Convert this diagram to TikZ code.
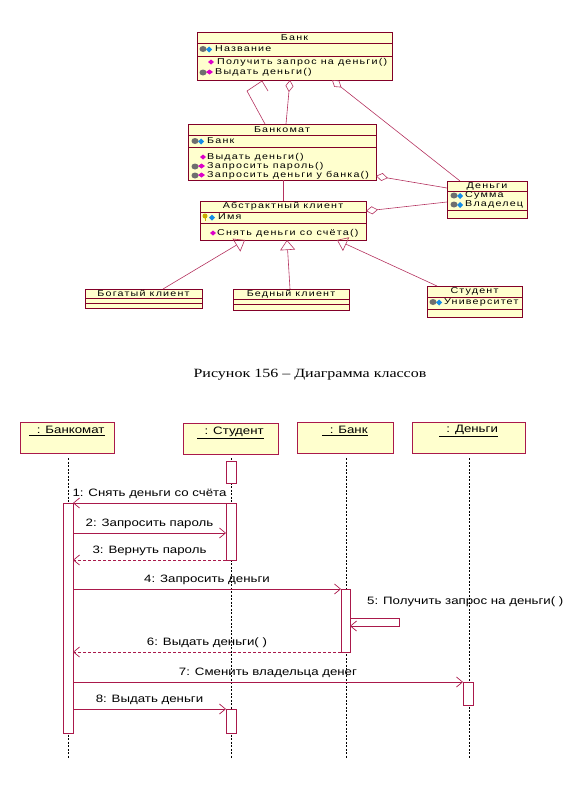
\documentclass[tikz,border=0pt]{standalone}
\usepackage{fontspec}
\setmainfont{Liberation Sans}
\newfontfamily\rosefont[LetterSpace=14,FakeStretch=1.26]{Liberation Sans}
\newfontfamily\seqfont[FakeStretch=1.24]{Liberation Sans}
\newfontfamily\capfont[FakeStretch=1.27]{Liberation Serif}
\usetikzlibrary{arrows.meta,calc}

\definecolor{rosefill}{RGB}{255,255,206}
\definecolor{rosedark}{RGB}{130,0,40}
\definecolor{roseline}{RGB}{180,50,95}
\definecolor{seqline}{RGB}{170,25,75}
\definecolor{icongray}{RGB}{110,110,110}
\definecolor{iconblue}{RGB}{20,140,230}
\definecolor{iconmag}{RGB}{220,0,200}
\definecolor{iconkey}{RGB}{200,170,0}

\tikzset{
  classbox/.style={draw=rosedark, fill=rosefill, line width=0.8pt, inner sep=0pt,
                   outer sep=0pt, anchor=north west},
  sepline/.style={draw=rosedark, line width=0.6pt},
  ctext/.style={font=\rosefont\fontsize{8.5}{9}\selectfont, inner sep=0pt, anchor=west},
  chead/.style={font=\rosefont\fontsize{8.5}{9}\selectfont, inner sep=0pt},
  assoc/.style={draw=roseline, line width=0.6pt},
  aggr/.style={assoc, {Diamond[open,length=12pt,width=8pt]}-},
  gen/.style={assoc, -{Triangle[open,length=10pt,width=15pt]}},
  objbox/.style={draw=seqline, fill=rosefill, line width=0.9pt, inner sep=0pt,
                 outer sep=0pt, anchor=north west},
  objtext/.style={font=\seqfont\fontsize{10.7}{12}\selectfont, inner sep=0pt},
  lifeline/.style={draw=black, line width=0.6pt, dash pattern=on 2pt off 1.5pt},
  actbox/.style={draw=seqline, fill=white, line width=0.9pt, inner sep=0pt,
                 outer sep=0pt, anchor=north west, minimum width=10pt},
  msg/.style={draw=seqline, line width=0.7pt, -{Straight Barb[length=6pt,width=10pt]}},
  reply/.style={msg, dash pattern=on 3pt off 2pt},
  mtext/.style={font=\seqfont\fontsize{10.7}{12}\selectfont, inner sep=0pt},
  attric/.pic={
    \fill[icongray] (3,0) ellipse (3.5pt and 3pt);
    \fill[iconblue] (6,0.5) -- (9,-2.5) -- (12,0.5) -- (9,3.5) -- cycle;
  },
  keyic/.pic={
    \fill[iconkey] (2,-1) circle (2.5pt);
    \draw[iconkey, line width=1pt] (2,0) -- (2,4);
    \fill[iconblue] (6,0.5) -- (9,-2.5) -- (12,0.5) -- (9,3.5) -- cycle;
  },
  opic/.pic={
    \fill[iconmag] (8,0) -- (11,-2.5) -- (14,0) -- (11,2.5) -- cycle;
  },
  protic/.pic={
    \fill[icongray] (3,0.5) ellipse (3.5pt and 3pt);
    \fill[iconmag] (6,0) -- (9.5,-2.5) -- (13,0) -- (9.5,2.5) -- cycle;
  },
}

\begin{document}
\begin{tikzpicture}[x=1pt,y=-1pt]
\useasboundingbox (0,0) rectangle (578,795);

% ---------------- class diagram ----------------
% Bank
\node[classbox, minimum width=195pt, minimum height=48pt] (bank) at (197,32) {};
\draw[sepline] ($(bank.north west)+(0,11)$) -- ($(bank.north east)+(0,11)$);
\draw[sepline] ($(bank.north west)+(0,24)$) -- ($(bank.north east)+(0,24)$);
\node[chead] (bankT) at ($(bank.north)+(0,5.5)$) {Банк};
\pic at ($(bank.north west)+(3,17)$) {attric};
\node[ctext] (bankA) at ($(bank.north west)+(18,17)$) {Название};
\pic at ($(bank.north west)+(3,30)$) {opic};
\node[ctext] (bankO1) at ($(bank.north west)+(20,30)$) {Получить запрос на деньги()};
\pic at ($(bank.north west)+(3,40)$) {protic};
\node[ctext] (bankO2) at ($(bank.north west)+(18,40)$) {Выдать деньги()};

% ATM
\node[classbox, minimum width=188pt, minimum height=56pt] (atm) at (188,124) {};
\draw[sepline] ($(atm.north west)+(0,11)$) -- ($(atm.north east)+(0,11)$);
\draw[sepline] ($(atm.north west)+(0,23)$) -- ($(atm.north east)+(0,23)$);
\node[chead] (atmT) at ($(atm.north)+(0,5.5)$) {Банкомат};
\pic at ($(atm.north west)+(4,17)$) {attric};
\node[ctext] (atmA) at ($(atm.north west)+(19,17)$) {Банк};
\pic at ($(atm.north west)+(4,33)$) {opic};
\node[ctext] (atmO1) at ($(atm.north west)+(19,33)$) {Выдать деньги()};
\pic at ($(atm.north west)+(4,42)$) {protic};
\node[ctext] (atmO2) at ($(atm.north west)+(19,42)$) {Запросить пароль()};
\pic at ($(atm.north west)+(4,51)$) {protic};
\node[ctext] (atmO3) at ($(atm.north west)+(19,51)$) {Запросить деньги у банка()};

% Abstract client
\node[classbox, minimum width=166pt, minimum height=39pt] (client) at (200,201) {};
\draw[sepline] ($(client.north west)+(0,11)$) -- ($(client.north east)+(0,11)$);
\draw[sepline] ($(client.north west)+(0,22)$) -- ($(client.north east)+(0,22)$);
\node[chead] (clientT) at ($(client.north)+(0,5.5)$) {Абстрактный клиент};
\pic at ($(client.north west)+(3,16)$) {keyic};
\node[ctext] (clientA) at ($(client.north west)+(18,16)$) {Имя};
\pic at ($(client.north west)+(2,32)$) {opic};
\node[ctext] (clientO) at ($(client.north west)+(17,32)$) {Снять деньги со счёта()};

% Money
\node[classbox, minimum width=80pt, minimum height=37pt] (money) at (447,181) {};
\draw[sepline] ($(money.north west)+(0,10)$) -- ($(money.north east)+(0,10)$);
\draw[sepline] ($(money.north west)+(0,29)$) -- ($(money.north east)+(0,29)$);
\node[chead] (moneyT) at ($(money.north)+(0,5)$) {Деньги};
\pic at ($(money.north west)+(4,14.5)$) {attric};
\node[ctext] (moneyA1) at ($(money.north west)+(18,14.5)$) {Сумма};
\pic at ($(money.north west)+(4,23.5)$) {attric};
\node[ctext] (moneyA2) at ($(money.north west)+(18,23.5)$) {Владелец};

% Rich client
\node[classbox, minimum width=117pt, minimum height=19pt] (rich) at (85,289) {};
\draw[sepline] ($(rich.north west)+(0,9)$) -- ($(rich.north east)+(0,9)$);
\draw[sepline] ($(rich.north west)+(0,14)$) -- ($(rich.north east)+(0,14)$);
\node[chead] (richT) at ($(rich.north)+(0,4.5)$) {Богатый клиент};

% Poor client
\node[classbox, minimum width=116pt, minimum height=21pt] (poor) at (233,289) {};
\draw[sepline] ($(poor.north west)+(0,10)$) -- ($(poor.north east)+(0,10)$);
\draw[sepline] ($(poor.north west)+(0,15)$) -- ($(poor.north east)+(0,15)$);
\node[chead] (poorT) at ($(poor.north)+(0,5.5)$) {Бедный клиент};

% Student
\node[classbox, minimum width=95pt, minimum height=31pt] (stud) at (427,286) {};
\draw[sepline] ($(stud.north west)+(0,11)$) -- ($(stud.north east)+(0,11)$);
\draw[sepline] ($(stud.north west)+(0,23)$) -- ($(stud.north east)+(0,23)$);
\node[chead] (studT) at ($(stud.north)+(0,5.5)$) {Студент};
\pic at ($(stud.north west)+(3,16)$) {attric};
\node[ctext] (studA) at ($(stud.north west)+(17,16)$) {Университет};

% relations
\draw[assoc] ($(atm.north west)+(77,0)$) -- ($(bank.south west)+(50,11)$)
             -- ($(bank.south west)+(65,1)$) -- ($(bank.south west)+(71,11)$);
\draw[aggr] ($(bank.south west)+(93,0)$) -- ($(atm.north west)+(98,0)$);
\draw[aggr] ($(bank.south west)+(135,0)$) -- ($(money.north west)+(13,0)$);
\draw[aggr] ($(atm.south east)+(0,-4)$) -- ($(money.north west)+(0,7)$);
\draw[aggr] ($(client.north east)+(0,10)$) -- ($(money.north west)+(0,21)$);
\draw[assoc] ($(atm.south west)+(95,0)$) -- ($(client.north west)+(83,0)$);
\draw[gen] ($(rich.north west)+(78,0)$) -- ($(client.south west)+(45,0)$);
\draw[gen] ($(poor.north west)+(57,0)$) -- ($(client.south west)+(87,0)$);
\draw[gen] ($(stud.north west)+(10,0)$) -- ($(client.south west)+(137,0)$);

% caption
\node[font=\capfont\fontsize{12.6}{14}\selectfont, inner sep=0pt] (caption) at (310,375)
  {Рисунок 156 – Диаграмма классов};

% ---------------- sequence diagram ----------------
\node[objbox, minimum width=94pt, minimum height=31pt] (oAtm) at (20,422) {};
\node[objbox, minimum width=95pt, minimum height=31pt] (oStud) at (183,423) {};
\node[objbox, minimum width=96pt, minimum height=31pt] (oBank) at (297,422) {};
\node[objbox, minimum width=113pt, minimum height=31pt] (oMoney) at (412,422) {};
\node[objtext] (tAtm) at ($(oAtm.north)+(0,9)$) {\underline{\ \ : Банкомат}};
\node[objtext] (tStud) at ($(oStud.north)+(0,10)$) {\underline{\ \ : Студент}};
\node[objtext] (tBank) at ($(oBank.north)+(0,9)$) {\underline{\ \ : Банк}};
\node[objtext] (tMoney) at ($(oMoney.north)+(0,9)$) {\underline{\ \ : Деньги}};

% lifelines
\coordinate (lAtm) at (68,458);
\coordinate (lStud) at (231,458);
\coordinate (lBank) at (346,458);
\coordinate (lMoney) at (469,458);
\coordinate (lEnd) at (0,758);
\draw[lifeline] (lAtm) -- (lAtm |- lEnd);
\draw[lifeline] (lStud) -- (lStud |- lEnd);
\draw[lifeline] (lBank) -- (lBank |- lEnd);
\draw[lifeline] (lMoney) -- (lMoney |- lEnd);

% activations
\node[actbox, minimum height=230pt] (aAtm) at (63,503) {};
\node[actbox, minimum height=22pt] (aStud1) at (226,461) {};
\node[actbox, minimum height=57pt] (aStud2) at (226,503) {};
\node[actbox, minimum height=63pt, minimum width=9pt] (aBank) at (341,589) {};
\node[actbox, minimum height=23pt] (aMoney) at (463,682) {};
\node[actbox, minimum height=24pt] (aStud3) at (226,709) {};

% message levels
\coordinate (m1) at (0,503);
\coordinate (m2) at (0,533);
\coordinate (m3) at (0,560);
\coordinate (m4) at (0,589);
\coordinate (m5a) at (0,618);
\coordinate (m5b) at (0,626);
\coordinate (m6) at (0,652);
\coordinate (m7) at (0,682);
\coordinate (m8) at (0,709);

\draw[msg] (aStud2.west |- m1) -- node[mtext, midway, anchor=base, yshift=7pt] {1: Снять деньги со счёта} (aAtm.east |- m1);
\draw[msg] (aAtm.east |- m2) -- node[mtext, midway, anchor=base, yshift=7pt] {2: Запросить пароль} (aStud2.west |- m2);
\draw[reply] (aStud2.west |- m3) -- node[mtext, midway, anchor=base, yshift=7pt] {3: Вернуть пароль} (aAtm.east |- m3);
\draw[msg] (aAtm.east |- m4) -- node[mtext, midway, anchor=base, yshift=7pt] {4: Запросить деньги} (aBank.west |- m4);
\draw[msg] (aBank.east |- m5a) -- ++(49,0) -- ++(0,8) -- (aBank.east |- m5b);
\node[mtext, anchor=base west] (t5) at ($(aBank.east |- m5a)+(17,-14)$) {5: Получить запрос на деньги( )};
\draw[reply] (aBank.west |- m6) -- node[mtext, midway, anchor=base, yshift=7pt] {6: Выдать деньги( )} (aAtm.east |- m6);
\draw[msg] (aAtm.east |- m7) -- node[mtext, midway, anchor=base, yshift=7pt] {7: Сменить владельца денег} (aMoney.west |- m7);
\draw[msg] (aAtm.east |- m8) -- node[mtext, midway, anchor=base, yshift=7pt] {8: Выдать деньги} (aStud3.west |- m8);

\end{tikzpicture}
\end{document}
